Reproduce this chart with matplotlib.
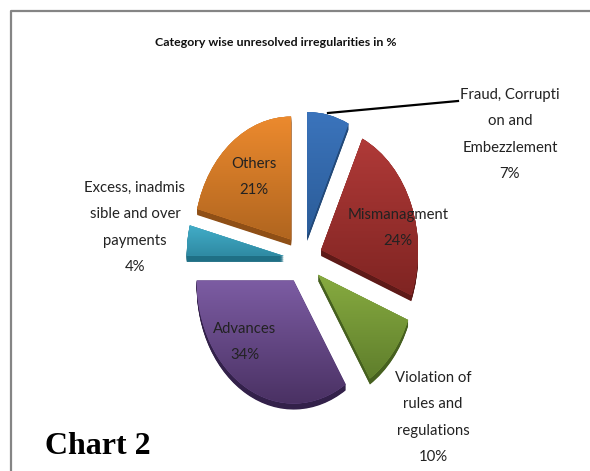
"""Category wise unresolved irregularities pie, exploded with a fake 3D tilt."""

import numpy as np
import matplotlib
matplotlib.use('Agg')
import matplotlib.pyplot as plt
from matplotlib.colors import LinearSegmentedColormap
from matplotlib.lines import Line2D

W, H = 590, 471

title = 'Category wise unresolved irregularities in %'
caption = 'Chart 2'
categories = ['Fraud, Corruption and Embezzlement', 'Mismanagment',
              'Violation of rules and regulations', 'Advances',
              'Excess, inadmissible and over payments', 'Others']
values = [7, 24, 10, 34, 4, 21]
label_lines = [
    ['Fraud, Corrupti', 'on and', 'Embezzlement', '7%'],
    ['Mismanagment', '24%'],
    ['Violation of', 'rules and', 'regulations', '10%'],
    ['Advances', '34%'],
    ['Excess, inadmis', 'sible and over', 'payments', '4%'],
    ['Others', '21%'],
]

# top of gradient, bottom of gradient, side wall
COLORS = [
    ('#3B74BC', '#2B5C98', '#234A7A'),
    ('#B03A38', '#7F2422', '#5E1A18'),
    ('#87AB40', '#5F7E2C', '#46601F'),
    ('#7C5CA3', '#4A3163', '#33214A'),
    ('#42ADC8', '#2F8AA3', '#1F6F85'),
    ('#EC8A2E', '#B0651F', '#8F4F16'),
]
# centre x, first line y in pixels, for each label
LABEL_POS = [(510, 95), (398, 215), (433, 378), (245, 329), (135, 188), (254, 164)]
LINE_STEP = 26.4

CX, CY = 303, 259      # pie centre, pixels from top left
RX, RY = 97, 123       # radius 1 in pixels, the tilt makes it an ellipse
DEPTH = 6 / RY
EXPLODE = [0.2] * len(values)


def px(x, y):
    return x / W, 1 - y / H


fig = plt.figure(figsize=(W / 100, H / 100), dpi=100, facecolor='white')
ax = fig.add_axes([(CX - 2 * RX) / W, 1 - (CY + 1.5 * RY) / H, 4 * RX / W, 3 * RY / H])

# side walls first, stacked copies going up
for d in np.linspace(DEPTH, 0, 10):
    ax.pie(values, explode=EXPLODE, startangle=90, counterclock=False,
           center=(0, -d), colors=[c[2] for c in COLORS],
           wedgeprops={'linewidth': 0})

wedges, _ = ax.pie(values, explode=EXPLODE, startangle=90, counterclock=False,
                   colors=[c[0] for c in COLORS], wedgeprops={'linewidth': 0})

grad = np.linspace(0, 1, 256).reshape(-1, 1)
for wedge, (top, bottom, _side) in zip(wedges, COLORS):
    box = wedge.get_path().get_extents()
    cmap = LinearSegmentedColormap.from_list('w', [top, bottom])
    im = ax.imshow(grad, cmap=cmap, aspect='auto', origin='upper',
                   extent=[box.x0, box.x1, box.y0, box.y1], zorder=wedge.get_zorder() + 0.1)
    im.set_clip_path(wedge)

ax.set_aspect('auto')
ax.set_xlim(-2, 2)
ax.set_ylim(-1.5, 1.5)
ax.axis('off')

# frame of the embedded chart, open to the right and bottom
frame_x = [px(11, 0)[0], px(11, 0)[0], 1]
frame_y = [0, px(0, 11)[1], px(0, 11)[1]]
fig.add_artist(Line2D(frame_x, frame_y, color='#858585', lw=1.6, transform=fig.transFigure))

# leader line for the first slice
lx, ly = zip(px(328, 113), px(458, 101))
fig.add_artist(Line2D(lx, ly, color='black', lw=1.6, transform=fig.transFigure))

fig.text(*px(276, 42), title, ha='center', va='center', family='Lato',
         fontsize=8.9, color='#111111', weight='bold')
fig.text(*px(45, 447), caption, ha='left', va='center', family='Liberation Serif',
         fontsize=23, weight='bold', color='black')

for lines, (x, y) in zip(label_lines, LABEL_POS):
    for i, line in enumerate(lines):
        fig.text(*px(x, y + i * LINE_STEP), line, ha='center', va='center',
                 family='Lato', fontsize=10.7, color='#222222')

fig.savefig('out.png', dpi=100, facecolor='white')
